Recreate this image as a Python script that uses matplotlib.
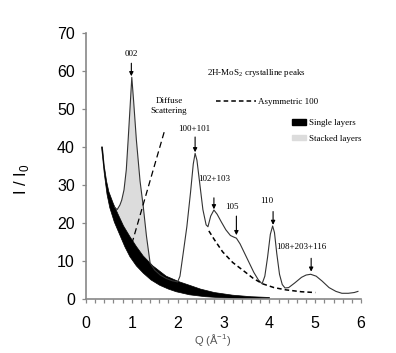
import numpy as np
import matplotlib
matplotlib.use("Agg")
import matplotlib.pyplot as plt
from matplotlib.patches import Patch

# measured pattern (thin solid line)
q_meas = [0.62, 0.68, 0.74, 0.78, 0.83, 0.88, 0.92, 0.96, 1.00, 1.04, 1.10, 1.18, 1.25, 1.32, 1.40,
          1.50, 1.62, 1.75, 1.88, 2.00, 2.05, 2.12, 2.20, 2.28, 2.34, 2.38, 2.42, 2.48, 2.55, 2.62,
          2.66, 2.72, 2.79, 2.86, 2.95, 3.05, 3.15, 3.22, 3.28, 3.36, 3.46, 3.56, 3.66, 3.76, 3.84,
          3.90, 3.96, 4.02, 4.07, 4.11, 4.16, 4.22, 4.28, 4.34, 4.42, 4.55, 4.70, 4.80, 4.90, 5.02,
          5.15, 5.30, 5.45, 5.58, 5.72, 5.85, 5.93]
i_meas = [24.2, 23.5, 24.7, 26.0, 28.7, 34.0, 41.8, 50.0, 58.3, 52.0, 41.8, 31.0, 24.3, 16.5, 9.4,
          7.6, 6.3, 5.4, 4.8, 4.5, 6.0, 12.0, 19.0, 28.0, 35.5, 38.3, 36.5, 30.5, 23.5, 19.5,
          19.0, 21.8, 23.4, 22.3, 20.3, 18.2, 16.7, 16.3, 16.0, 14.5, 12.0, 9.5, 7.0, 5.0, 4.0,
          6.0, 11.0, 17.0, 19.2, 17.5, 12.0, 6.5, 3.8, 2.9, 3.0, 4.2, 5.7, 6.3, 6.5, 6.0,
          4.7, 3.0, 2.0, 1.5, 1.5, 1.7, 2.0]

# single layers band (upper and lower edges)
band_q_hi = [0.36, 0.40, 0.45, 0.50, 0.60, 0.70, 0.82, 0.96, 1.10, 1.25, 1.46, 1.75, 2.04, 2.26,
             2.50, 2.80, 3.20, 3.60, 4.00]
band_i_hi = [40.0, 35.0, 31.0, 28.2, 25.0, 22.3, 19.2, 16.4, 13.8, 11.3, 8.7, 6.0, 4.5, 3.6,
             2.6, 1.7, 1.0, 0.6, 0.4]
band_q_lo = [0.34, 0.40, 0.46, 0.52, 0.62, 0.74, 0.85, 0.96, 1.10, 1.25, 1.42, 1.61, 1.80, 1.97,
             2.26, 2.60, 3.00, 3.50, 4.00]
band_i_lo = [40.0, 33.0, 27.5, 24.0, 20.2, 16.8, 13.7, 11.1, 8.7, 6.8, 5.0, 3.6, 2.6, 1.9,
             1.1, 0.6, 0.3, 0.15, 0.1]

# stacked layers fill (top = measured line, bottom = band edge)
stack_q_top = [0.62, 0.68, 0.74, 0.78, 0.83, 0.88, 0.92, 0.96, 1.00, 1.04, 1.10, 1.18, 1.25, 1.32, 1.40]
stack_i_top = [24.2, 23.5, 24.7, 26.0, 28.7, 34.0, 41.8, 50.0, 58.3, 52.0, 41.8, 31.0, 24.3, 16.5, 9.4]
stack_q_bot = [1.40, 1.25, 1.10, 0.96, 0.82, 0.70, 0.62]
stack_i_bot = [9.4, 11.3, 13.8, 16.4, 19.2, 22.3, 24.2]

# asymmetric 100 tail
q_asym = [2.68, 2.80, 2.98, 3.20, 3.46, 3.65, 3.85, 4.10, 4.36, 4.70, 5.00]
i_asym = [17.9, 15.6, 12.4, 9.6, 7.2, 5.4, 4.0, 3.0, 2.4, 1.9, 1.7]

# peak labels: text, text x, text bottom y, arrow x, arrow tail y, arrow tip y
peak_text = ['002', '100+101', '102+103', '105', '110', '108+203+116']
peak_tx = [1.00, 2.37, 2.80, 3.18, 3.94, 4.69]
peak_ty = [63.4, 43.7, 30.6, 23.2, 24.6, 12.7]
peak_ax = [0.99, 2.38, 2.79, 3.28, 4.08, 4.91]
peak_tail = [62.0, 42.6, 26.6, 21.8, 23.0, 10.7]
peak_tip = [58.6, 38.6, 23.6, 16.8, 19.5, 7.2]

serif = 'Liberation Serif'
sans = 'Liberation Sans'
fs_small = 6.5

fig = plt.figure(figsize=(3.96, 3.53), dpi=100)
ax = fig.add_axes([0.217, 0.153, 0.695, 0.754])

ax.fill(stack_q_top + stack_q_bot, stack_i_top + stack_i_bot, color='#dcdcdc', lw=0, zorder=1)
ax.fill(band_q_lo + band_q_hi[::-1], band_i_lo + band_i_hi[::-1], color='black', lw=0.5,
        ec='black', zorder=2)
ax.plot(q_meas, i_meas, color='#333333', lw=0.8, zorder=3)
asym, = ax.plot(q_asym, i_asym, color='black', lw=1.1, ls=(0, (3, 2)), zorder=3,
                label='Asymmetric 100')

# diffuse scattering pointer
ax.plot([1.0, 1.72], [14.5, 44.5], color='black', lw=0.9, ls=(0, (5, 3)), zorder=3)
ax.text(1.81, 50.8, 'Diffuse\nScattering', family=serif, fontsize=fs_small,
        ha='center', va='center', linespacing=1.3)

for t, tx, ty, axp, tl, tp in zip(peak_text, peak_tx, peak_ty, peak_ax, peak_tail, peak_tip):
    ax.text(tx, ty, t, family=serif, fontsize=fs_small, ha='center', va='bottom')
    ax.annotate('', xy=(axp, tp), xytext=(axp, tl),
                arrowprops=dict(arrowstyle='-|>', color='black', lw=0.8,
                                mutation_scale=6, shrinkA=0, shrinkB=0))

ax.text(3.71, 59.4, '2H-MoS$_\\mathregular{2}$ crystalline peaks', family=serif,
        fontsize=fs_small, ha='center', va='center')

leg1 = ax.legend(handles=[asym], loc='upper left', bbox_to_anchor=(0.545, 0.724),
                 bbox_transform=fig.transFigure, frameon=False, borderpad=0,
                 borderaxespad=0, handlelength=4.4, handletextpad=0.3,
                 prop={'family': serif, 'size': fs_small})
ax.add_artist(leg1)
ax.legend(handles=[Patch(color='black', label='Single layers'),
                   Patch(color='#dcdcdc', label='Stacked layers')],
          loc='upper left', bbox_to_anchor=(0.738, 0.663), bbox_transform=fig.transFigure,
          frameon=False, borderpad=0, borderaxespad=0, handlelength=1.5, handleheight=0.6,
          handletextpad=0.4, labelspacing=0.85, prop={'family': serif, 'size': fs_small})

ax.set_xlim(0, 6)
ax.set_ylim(0, 70)
ax.set_xticks(np.arange(0, 7, 1))
ax.set_xticks(np.arange(0, 6.01, 0.2), minor=True)
ax.set_yticks(np.arange(0, 71, 10))
for s in ['top', 'right']:
    ax.spines[s].set_visible(False)
for s in ['left', 'bottom']:
    ax.spines[s].set_color('#888888')
    ax.spines[s].set_linewidth(1.2)
ax.tick_params(which='both', color='#888888', length=3, width=0.9)
ax.tick_params(axis='x', pad=9)
ax.tick_params(axis='y', pad=5)
for lab in ax.get_xticklabels() + ax.get_yticklabels():
    lab.set_family(sans)
    lab.set_fontsize(11.5)

ax.set_xlabel('Q (Å$^\\mathregular{-1}$)', family=sans, fontsize=8, color='#555555')
ax.xaxis.set_label_coords(0.46, -0.125)
ax.set_ylabel('I / I$_\\mathregular{0}$', family=sans, fontsize=12)
ax.yaxis.set_label_coords(-0.2, 0.45)

fig.savefig('out.png', dpi=100)
